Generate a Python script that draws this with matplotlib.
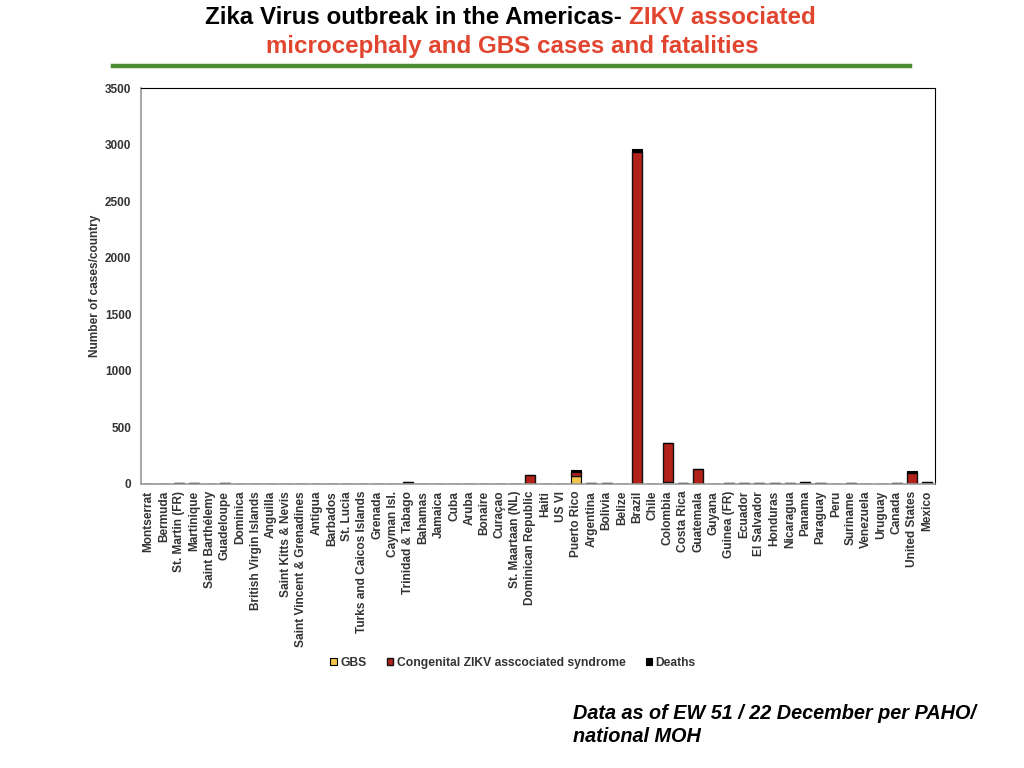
import numpy as np
import matplotlib
matplotlib.use("Agg")
import matplotlib.pyplot as plt

plt.rcParams['font.family'] = ['Liberation Sans', 'DejaVu Sans']

# ---------------------
# DATA
# ---------------------
countries = [
    "Montserrat", "Bermuda", "St. Martin (FR)", "Martinique", "Saint Barthélemy",
    "Guadeloupe", "Dominica", "British Virgin Islands", "Anguilla", "Saint Kitts & Nevis",
    "Saint Vincent & Grenadines", "Antigua", "Barbados", "St. Lucia",
    "Turks and Caicos Islands", "Grenada", "Cayman Isl.", "Trinidad & Tabago", "Bahamas",
    "Jamaica", "Cuba", "Aruba", "Bonaire", "Curaçao", "St. Maartaan (NL)",
    "Dominican Republic", "Haiti", "US VI", "Puerto Rico", "Argentina", "Bolivia",
    "Belize", "Brazil", "Chile", "Colombia", "Costa Rica", "Guatemala", "Guyana",
    "Guinea (FR)", "Ecuador", "El Salvador", "Honduras", "Nicaragua", "Panama",
    "Paraguay", "Peru", "Suriname", "Venezuela", "Uruguay", "Canada",
    "United States", "Mexico",
]

gbs = [0, 0, 0, 0, 0, 0, 0, 0, 0, 0,
       0, 0, 0, 0, 0, 0, 0, 0, 0, 0,
       0, 0, 0, 0, 0, 0, 0, 0, 70, 0,
       0, 0, 0, 0, 20, 0, 0, 0, 0, 0,
       0, 0, 0, 0, 0, 0, 0, 0, 0, 0,
       0, 0]

congenital = [0, 0, 5, 6, 0, 6, 0, 0, 0, 0,
              0, 0, 4, 0, 0, 4, 0, 15, 0, 0,
              0, 0, 0, 0, 0, 78, 4, 0, 38, 6,
              6, 0, 2935, 0, 345, 12, 135, 0, 6, 6,
              5, 6, 5, 14, 5, 0, 6, 0, 0, 5,
              95, 15]

deaths = [0, 0, 0, 0, 0, 0, 0, 0, 0, 0,
          0, 0, 0, 0, 0, 0, 0, 0, 0, 0,
          0, 0, 0, 0, 0, 0, 0, 0, 15, 0,
          0, 0, 30, 0, 0, 0, 0, 0, 0, 0,
          0, 0, 0, 0, 0, 0, 0, 0, 0, 0,
          22, 0]

yticks = [0, 500, 1000, 1500, 2000, 2500, 3000, 3500]

# ---------------------
# COLOURS
# ---------------------
c_gbs = "#f2c54b"
c_cong = "#b3211b"
c_death = "#000000"
c_red_title = "#e2452f"
c_green = "#4a8c2f"
c_text = "#333333"

fig = plt.figure(figsize=(10.24, 7.68), dpi=100)
ax = fig.add_axes([0.1377, 0.3698, 0.7754, 0.5156])

x = np.arange(len(countries))
gbs = np.array(gbs)
congenital = np.array(congenital)
deaths = np.array(deaths)

w = 0.66
ax.bar(x, gbs, w, color=c_gbs, edgecolor="black", linewidth=0.8, label="GBS")
ax.bar(x, congenital, w, bottom=gbs, color=c_cong, edgecolor="#111111", linewidth=1.0,
       label="Congenital ZIKV asscociated syndrome")
ax.bar(x, deaths, w, bottom=gbs + congenital, color=c_death, edgecolor="black",
       linewidth=0.8, label="Deaths")

ax.set_xlim(-0.5, len(countries) - 0.5)
ax.set_ylim(0, 3500)
ax.set_yticks(yticks)
ax.set_yticklabels([str(v) for v in yticks], fontsize=8.5, fontweight="bold", color=c_text)
ax.set_xticks(x)
ax.set_xticklabels(countries, rotation=90, fontsize=8.6, fontweight="bold", color=c_text)
ax.tick_params(axis="y", length=0, pad=7)
ax.tick_params(axis="x", length=0, pad=5)
ax.set_ylabel("Number of cases/country", fontsize=8.6, fontweight="bold", color=c_text,
              labelpad=3)

for s in ["top", "right"]:
    ax.spines[s].set_color("black")
    ax.spines[s].set_linewidth(0.8)
for s in ["left", "bottom"]:
    ax.spines[s].set_color("#999999")
    ax.spines[s].set_linewidth(1.2)

# legend
leg = fig.legend(loc="center", bbox_to_anchor=(513 / 1024, 1 - 663 / 768), ncol=3,
                 frameon=False, fontsize=8.7, handlelength=0.55, handleheight=0.55,
                 handletextpad=0.25, columnspacing=1.7)
for t in leg.get_texts():
    t.set_fontweight("bold")
    t.set_color(c_text)

# title, two colours on the first line
fig.canvas.draw()
r = fig.canvas.get_renderer()
t1 = fig.text(0, 1 - 17 / 768, "Zika Virus outbreak in the Americas-", fontsize=17.4,
              fontweight="bold", color="black", ha="left", va="center")
t2 = fig.text(0, 1 - 17 / 768, "ZIKV associated", fontsize=17.4, fontweight="bold",
              color=c_red_title, ha="left", va="center")
w1 = t1.get_window_extent(r).width
w2 = t2.get_window_extent(r).width
gap = 7
x0 = (1021 - (w1 + gap + w2)) / 2
t1.set_x(x0 / 1024)
t2.set_x((x0 + w1 + gap) / 1024)
fig.text(0.5, 1 - 46 / 768, "microcephaly and GBS cases and fatalities", fontsize=17.4,
         fontweight="bold", color=c_red_title, ha="center", va="center")

# green rule under title
fig.add_artist(plt.Line2D([113 / 1024, 910 / 1024], [1 - 66 / 768, 1 - 66 / 768],
                          color=c_green, linewidth=3.2, transform=fig.transFigure))

fig.text(573 / 1024, 1 - 725 / 768, "Data as of EW 51 / 22 December per PAHO/\nnational MOH",
         fontsize=14.3, fontweight="bold", fontstyle="italic", ha="left", va="center",
         linespacing=1.3)

fig.savefig("out.png", dpi=100)
